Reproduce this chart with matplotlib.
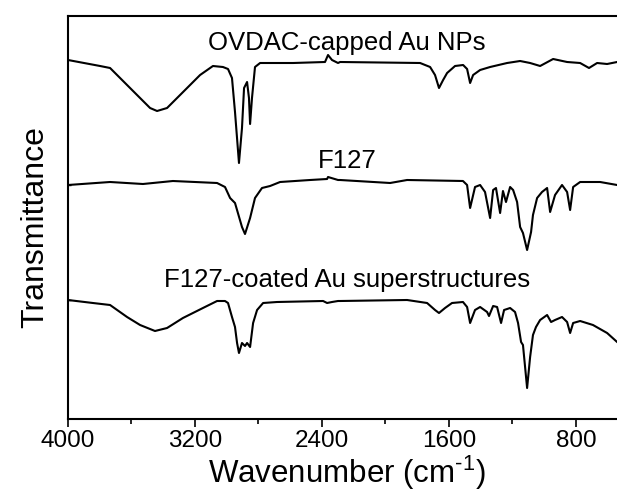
import matplotlib
matplotlib.use('Agg')
import matplotlib.pyplot as plt
from matplotlib.ticker import MultipleLocator

plt.rcParams['font.family'] = ['Liberation Sans', 'DejaVu Sans']
plt.rcParams['mathtext.fontset'] = 'custom'
plt.rcParams['mathtext.rm'] = 'Liberation Sans'
plt.rcParams['mathtext.it'] = 'Liberation Sans'

# FTIR spectra, points (wavenumber, transmittance a.u.)
wn_ovdac = [4000, 3798, 3735, 3672, 3565, 3483, 3439, 3376, 3294, 3168, 3087, 3024,
            2992, 2967, 2948, 2923, 2904, 2891, 2872, 2860, 2853, 2841, 2822, 2790,
            2582, 2381, 2362, 2337, 2299, 2286, 1782, 1719, 1688, 1663, 1637, 1612,
            1562, 1511, 1486, 1467, 1448, 1404, 1341, 1234, 1152, 1089, 1026, 944,
            856, 774, 718, 667, 604, 541, 485]
t_ovdac = [359, 353, 351, 341, 324, 311, 308, 311, 324, 344, 353, 352,
           350, 341, 307, 256, 291, 331, 337, 321, 295, 321, 352, 356,
           356, 357, 364, 359, 356, 357, 356, 352, 344, 331, 339, 346,
           353, 354, 350, 336, 344, 349, 352, 356, 358, 356, 353, 360,
           357, 356, 351, 356, 355, 357, 358]

wn_f127 = [4000, 3735, 3528, 3339, 3061, 3011, 2979, 2948, 2904, 2885, 2853, 2822,
           2778, 2727, 2664, 2475, 2368, 2362, 2299, 2286, 1971, 1864, 1512, 1486,
           1467, 1436, 1404, 1373, 1341, 1322, 1304, 1278, 1260, 1241, 1215, 1196,
           1171, 1152, 1134, 1108, 1083, 1071, 1045, 1014, 982, 963, 932, 888,
           856, 837, 818, 774, 648, 541, 485]
t_f127 = [234, 237, 235, 238, 236, 232, 221, 216, 192, 185, 201, 221,
          231, 233, 237, 239, 240, 242, 239, 239, 236, 239, 238, 234,
          211, 232, 234, 227, 201, 229, 231, 206, 228, 217, 232, 229,
          217, 192, 186, 169, 187, 204, 221, 227, 231, 207, 224, 234,
          227, 209, 232, 237, 237, 234, 234]

wn_coated = [4000, 3843, 3735, 3628, 3546, 3452, 3376, 3276, 3150, 3061, 3011, 2992,
             2967, 2948, 2935, 2923, 2904, 2885, 2872, 2853, 2834, 2809, 2771, 2683,
             2393, 2368, 2337, 2299, 2286, 1864, 1738, 1688, 1663, 1625, 1581, 1512,
             1486, 1467, 1436, 1404, 1360, 1348, 1322, 1297, 1272, 1253, 1215, 1184,
             1165, 1146, 1134, 1108, 1089, 1071, 1052, 1026, 982, 957, 932, 888,
             856, 837, 818, 774, 693, 604, 541, 490]
t_coated = [119, 116, 114, 102, 94, 88, 91, 101, 111, 118, 118, 116,
            102, 92, 76, 66, 76, 73, 76, 72, 96, 109, 116, 117,
            118, 116, 117, 118, 118, 119, 116, 109, 106, 111, 116, 117,
            112, 96, 109, 112, 107, 103, 113, 112, 96, 109, 111, 107,
            96, 77, 74, 31, 62, 84, 92, 99, 104, 97, 99, 102,
            97, 86, 96, 98, 94, 86, 77, 71]

labels = ['OVDAC-capped Au NPs', 'F127', 'F127-coated Au superstructures']
label_y = [369, 251, 132]

fig = plt.figure(figsize=(6.17, 4.93), dpi=100)
ax = fig.add_axes([68 / 617, 1 - 419 / 493, 558 / 617, 403 / 493])

for wn, t in [(wn_ovdac, t_ovdac), (wn_f127, t_f127), (wn_coated, t_coated)]:
    ax.plot(wn, t, color='black', lw=1.5)

for lab, y in zip(labels, label_y):
    ax.text(2242, y, lab, ha='center', va='baseline', fontsize=18.5)

ax.set_xlim(4000, 485)
ax.set_ylim(0, 403)
ax.xaxis.set_minor_locator(MultipleLocator(400))
ax.set_xticks([4000, 3200, 2400, 1600, 800])
ax.tick_params(axis='x', which='major', direction='out', length=6, width=1.2,
               labelsize=17.5, pad=2)
ax.tick_params(axis='x', which='minor', direction='out', length=3.5, width=1.2)
ax.set_yticks([119, 234])
ax.tick_params(axis='y', direction='in', length=2, width=1, labelleft=False)
for s in ax.spines.values():
    s.set_linewidth(1.5)

fig.text(347 / 617, 1 - 483 / 493, r'Wavenumber (cm$^{\text{-1}}$)',
         ha='center', va='baseline', fontsize=22.5)
fig.text(35 / 617, 1 - 227 / 493, 'Transmittance', rotation=90,
         ha='center', va='center', fontsize=23)

fig.savefig('out.png', dpi=100)
